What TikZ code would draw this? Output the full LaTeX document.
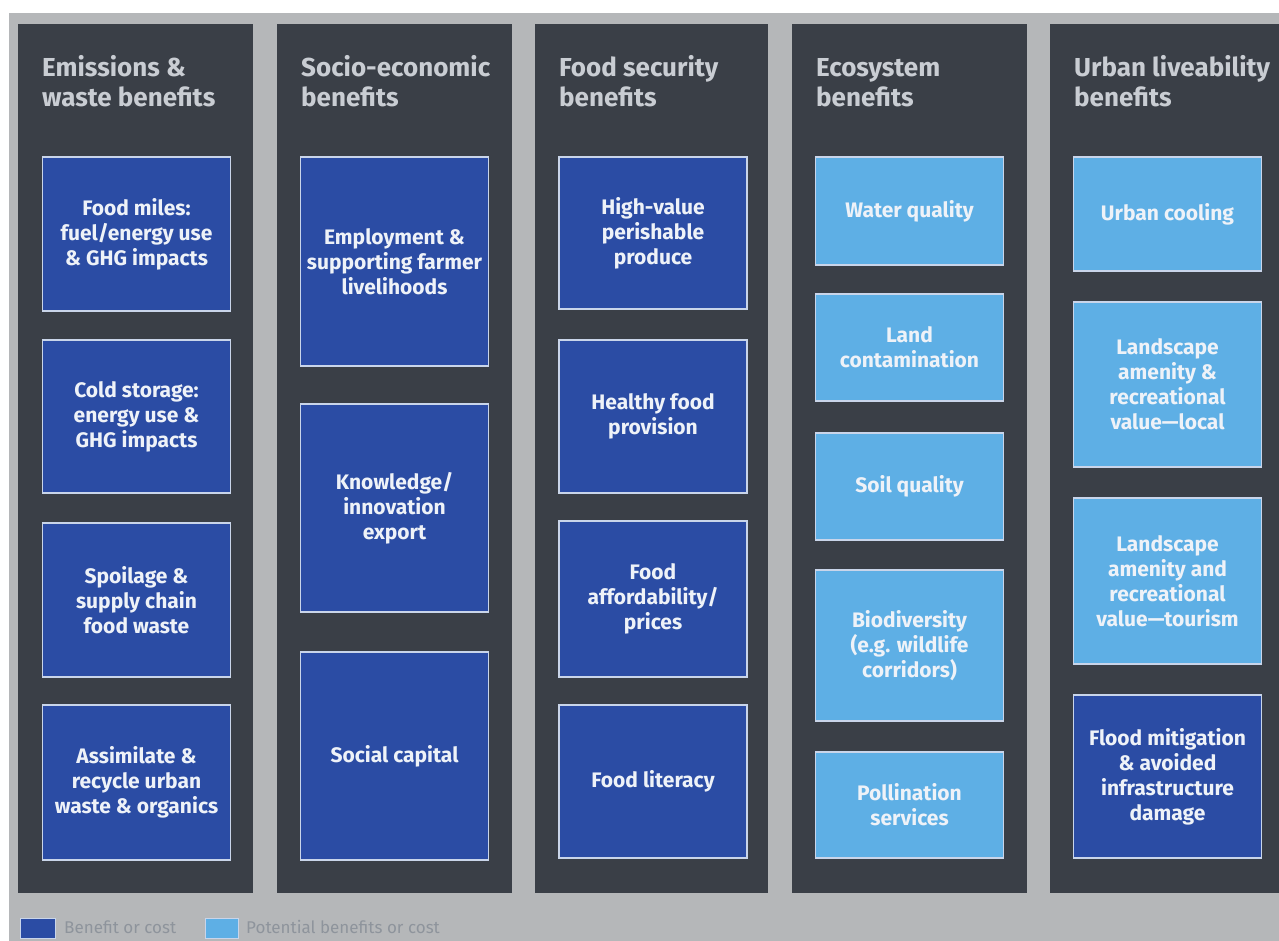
\documentclass[tikz,border=0pt]{standalone}
\usepackage{fontspec}
\setmainfont{Fira Sans}
\definecolor{bggrey}{HTML}{B5B7B9}
\definecolor{colbg}{HTML}{3A3F47}
\definecolor{dkblue}{HTML}{2B4CA4}
\definecolor{ltblue}{HTML}{5EAFE5}
\definecolor{bxline}{HTML}{C9D5EA}
\definecolor{titlec}{HTML}{C9CDD3}
\definecolor{bxtext}{HTML}{EEF2F8}
\definecolor{legtext}{HTML}{8E949C}
\tikzset{
  col/.style={fill=colbg, draw=none},
  bx/.style={draw=bxline, line width=1.6pt, minimum width=188pt, inner sep=2pt, align=center, text=bxtext,
     font=\bfseries\fontsize{21}{25}\selectfont},
  bd/.style={bx, fill=dkblue},
  bl/.style={bx, fill=ltblue},
  ttl/.style={anchor=north west, inner sep=0pt, align=left, text=titlec, font=\bfseries\fontsize{26}{30}\selectfont},
  lg/.style={anchor=west, inner sep=0pt, text=legtext, font=\fontsize{17}{19}\selectfont},
  lgbox/.style={draw=bxline, line width=1pt},
}
\begin{document}
\begin{tikzpicture}[x=1pt,y=-1pt]
\useasboundingbox (0,0) rectangle (1279,941);
\fill[white] (0,0) rectangle (1279,941);
\fill[bggrey] (9,13) rectangle (1279,941);
% columns
\fill[col] (18,24) rectangle (253,893);
\fill[col] (277,24) rectangle (512,893);
\fill[col] (535,24) rectangle (768,893);
\fill[col] (792,24) rectangle (1027,893);
\fill[col] (1050,24) rectangle (1279,893);
% titles
\node[ttl] (t1) at (42,55) {\strut Emissions \&\\waste benefits};
\node[ttl] (t2) at (301,55) {\strut Socio-economic\\benefits};
\node[ttl] (t3) at (559,55) {\strut Food security\\benefits};
\node[ttl] (t4) at (816,55) {\strut Ecosystem\\benefits};
\node[ttl] (t5) at (1074,55) {\strut Urban liveability\\benefits};
% column 1
\node[bd, minimum height=154pt] (a1) at (136.5,234) {Food miles:\\fuel/energy use\\\& GHG impacts};
\node[bd, minimum height=153pt] (a2) at (136.5,416.5) {Cold storage:\\energy use \&\\GHG impacts};
\node[bd, minimum height=154pt] (a3) at (136.5,600) {Spoilage \&\\supply chain\\food waste};
\node[bd, minimum height=155pt] (a4) at (136.5,782.5) {Assimilate \&\\recycle urban\\waste \& organics};
% column 2
\node[bd, minimum height=209pt] (b1) at (394.5,261.5) {Employment \&\\supporting farmer\\livelihoods};
\node[bd, minimum height=208pt] (b2) at (394.5,508) {Knowledge/\\innovation\\export};
\node[bd, minimum height=208pt] (b3) at (394.5,756) {Social capital};
% column 3
\node[bd, minimum height=152pt] (c1) at (653,233) {High-value\\perishable\\produce};
\node[bd, minimum height=153pt] (c2) at (653,416.5) {Healthy food\\provision};
\node[bd, minimum height=156pt] (c3) at (653,599) {Food\\affordability/\\prices};
\node[bd, minimum height=153pt] (c4) at (653,781.5) {Food literacy};
% column 4
\node[bl, minimum height=108pt] (d1) at (909.5,211) {Water quality};
\node[bl, minimum height=107pt] (d2) at (909.5,347.5) {Land\\contamination};
\node[bl, minimum height=107pt] (d3) at (909.5,486.5) {Soil quality};
\node[bl, minimum height=151pt] (d4) at (909.5,645.5) {Biodiversity\\(e.g. wildlife\\corridors)};
\node[bl, minimum height=106pt] (d5) at (909.5,805) {Pollination\\services};
% column 5
\node[bl, minimum height=114pt] (e1) at (1167.5,214) {Urban cooling};
\node[bl, minimum height=165pt] (e2) at (1167.5,384.5) {Landscape\\amenity \&\\recreational\\value—local};
\node[bl, minimum height=166pt] (e3) at (1167.5,581) {Landscape\\amenity and\\recreational\\value—tourism};
\node[bd, minimum height=163pt] (e4) at (1167.5,776.5) {Flood mitigation\\\& avoided\\infrastructure\\damage};
% legend
\filldraw[lgbox, fill=dkblue] (20,918) rectangle (55,938);
\node[lg] (l1) at (64,927) {Benefit or cost};
\filldraw[lgbox, fill=ltblue] (205,918) rectangle (238,938);
\node[lg] (l2) at (246,927) {Potential benefits or cost};
\end{tikzpicture}
\end{document}
